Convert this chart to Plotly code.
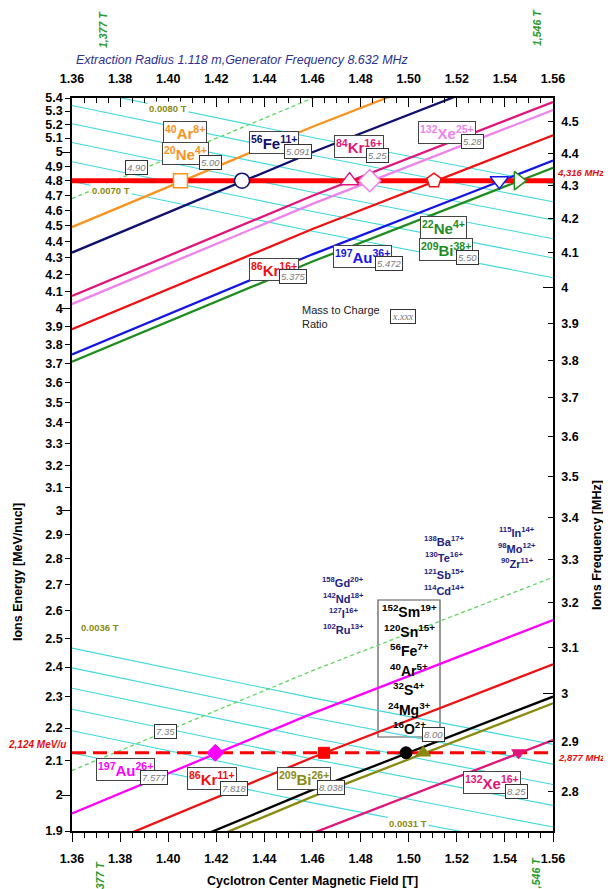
import math
import plotly.graph_objects as go

# ---------------- data ----------------
B_GRID = [1.36, 1.46, 1.56]          # magnetic field [T] sample points of each line

# constant mass-to-charge lines: energy [MeV/u] at B_GRID
E_AQ_490 = [4.6791, 5.3989, 6.1713]   # dashed
E_AQ_500 = [4.4926, 5.1833, 5.9246]   # 40Ar8+ / 20Ne4+
E_AQ_5091 = [4.3323, 4.9981, 5.7128]  # 56Fe11+
E_AQ_525 = [4.0721, 4.6977, 5.3690]   # 84Kr16+
E_AQ_528 = [4.0257, 4.6441, 5.3077]   # 132Xe25+
E_AQ_5375 = [3.8838, 4.4802, 5.1202]  # 86Kr16+
E_AQ_5472 = [3.7465, 4.3217, 4.9389]  # 197Au36+
E_AQ_550 = [3.7082, 4.2775, 4.8883]   # 22Ne4+ / 209Bi38+
E_AQ_735 = [2.0710, 2.3879, 2.7277]   # dashed
E_AQ_7577 = [1.9483, 2.2465, 2.5661]  # 197Au26+
E_AQ_7818 = [1.8297, 2.1097, 2.4097]  # 86Kr11+
E_AQ_800 = [1.7472, 2.0145, 2.3009]   # 16O2+ ...
E_AQ_8038 = [1.7307, 1.9954, 2.2791]  # 209Bi26+
E_AQ_825 = [1.6426, 1.8939, 2.1631]   # 132Xe16+

# constant trim field lines (cyan): energy at B_GRID
TRIM_TOP = [
    [4.7945, 4.4661, 4.1798],   # 0.0070 T
    [4.9314, 4.5937, 4.2992],   # 0.0072 T
    [5.0684, 4.7213, 4.4186],   # 0.0074 T
    [5.2054, 4.8489, 4.5381],   # 0.0076 T
    [5.3424, 4.9765, 4.6575],   # 0.0078 T
    [5.4794, 5.1041, 4.7769],   # 0.0080 T
]
TRIM_BOT = [
    [2.1233, 1.9778, 1.8510],   # 0.0031 T
    [2.1918, 2.0416, 1.9108],   # 0.0032 T
    [2.2602, 2.1054, 1.9705],   # 0.0033 T
    [2.3287, 2.1692, 2.0302],   # 0.0034 T
    [2.3972, 2.2330, 2.0899],   # 0.0035 T
    [2.4657, 2.2968, 2.1496],   # 0.0036 T
]

E_HIGH = 4.8          # MeV/u  (4,316 MHz)
E_LOW = 2.124         # MeV/u  (2,877 MHz)
B_LINE = [1.36, 1.56]
B_HIGH_MARKS = [1.4051, 1.4307, 1.4754, 1.4838, 1.5105, 1.5377, 1.5456]
B_LOW_MARKS = [1.4196, 1.4648, 1.4989, 1.5060, 1.5457]

LEFT_TICKS = ["1.9", "2", "2.1", "2.2", "2.3", "2.4", "2.5", "2.6", "2.7", "2.8", "2.9",
              "3", "3.1", "3.2", "3.3", "3.4", "3.5", "3.6", "3.7", "3.8", "3.9",
              "4", "4.1", "4.2", "4.3", "4.4", "4.5", "4.6", "4.7", "4.8", "4.9",
              "5", "5.1", "5.2", "5.3", "5.4"]
LEFT_LONG = [2, 3, 4, 5]
RIGHT_TICKS = ["2.8", "2.9", "3", "3.1", "3.2", "3.3", "3.4", "3.5", "3.6", "3.7",
               "3.8", "3.9", "4", "4.1", "4.2", "4.3", "4.4", "4.5"]
RIGHT_LONG = [3, 4]
E_RANGE = [1.9, 5.4]
F_RANGE = [2.7221, 4.5756]    # ion frequency [MHz] matching E_RANGE
B_RANGE = [1.36, 1.56]

# ---------------- layout helpers ----------------
# the page body adds an 8 px offset; the figure is sized/margined to compensate
OFF = 8
W, H = 611, 889
PL, PR, PT, PB = 72, 553, 98, 831     # plot area in window pixels


def px(x):
    return (x - PL) / (PR - PL)


def py(y):
    return (PB - y) / (PB - PT)


FONT = "Liberation Sans"
ORANGE = "#F7931E"
NAVY = "#10106E"
KRPINK = "#E0157A"
VIOLET = "#EE82EE"
RED = "#EE1111"
BLUE = "#1515E6"
GREEN = "#1E8C1E"
LGREEN = "#5CD65C"
CYAN = "#3ED8DE"
MAGENTA = "#FF00FF"
OLIVE = "#8A8A10"
LABNAVY = "#22227F"

fig = go.Figure()


def line(xs, ys, color, width, dash=None):
    fig.add_trace(go.Scatter(x=xs, y=ys, mode="lines", hoverinfo="skip", showlegend=False,
                             line=dict(color=color, width=width, dash=dash)))


for e in TRIM_TOP + TRIM_BOT:
    line(B_GRID, e, CYAN, 1.1)

line(B_GRID, E_AQ_490, LGREEN, 1.3, "4px,3px")
line(B_GRID, E_AQ_735, LGREEN, 1.3, "4px,3px")

top_lines = [(E_AQ_500, ORANGE), (E_AQ_5091, NAVY), (E_AQ_525, KRPINK), (E_AQ_528, VIOLET),
             (E_AQ_5375, RED), (E_AQ_5472, BLUE), (E_AQ_550, GREEN)]
bot_lines = [(E_AQ_7577, MAGENTA), (E_AQ_7818, RED), (E_AQ_800, "black"),
             (E_AQ_8038, OLIVE), (E_AQ_825, KRPINK)]
for e, c in top_lines + bot_lines:
    line(B_GRID, e, c, 2.3)

line(B_LINE, [E_HIGH, E_HIGH], "#FF0000", 5)
line(B_LINE, [E_LOW, E_LOW], "#FF0000", 3, "14px,7px")

top_sym = ["square", "circle", "triangle-up", "diamond", "pentagon", "triangle-down", "triangle-right"]
top_col = [ORANGE, NAVY, KRPINK, VIOLET, RED, BLUE, GREEN]
top_size = [14, 15, 16, 17, 15, 16, 16]
for b, s, c, z in zip(B_HIGH_MARKS, top_sym, top_col, top_size):
    fig.add_trace(go.Scatter(x=[b], y=[E_HIGH], mode="markers", hoverinfo="skip", showlegend=False,
                             marker=dict(symbol=s, size=z, color="white", line=dict(color=c, width=1.5))))

bot_sym = ["diamond", "square", "circle", "triangle-up", "triangle-down"]
bot_col = [MAGENTA, "#FF0000", "black", OLIVE, KRPINK]
bot_size = [13, 11, 12, 13, 12]
for b, s, c, z in zip(B_LOW_MARKS, bot_sym, bot_col, bot_size):
    fig.add_trace(go.Scatter(x=[b], y=[E_LOW], mode="markers", hoverinfo="skip", showlegend=False,
                             marker=dict(symbol=s, size=z, color=c, line=dict(color=c, width=1))))

# dummy traces so the overlay axes are drawn
fig.add_trace(go.Scatter(x=[1.46], y=[3.5], xaxis="x2", yaxis="y2", mode="markers",
                         marker=dict(opacity=0), hoverinfo="skip", showlegend=False))
fig.add_trace(go.Scatter(x=[1.46], y=[3.5], xaxis="x", yaxis="y3", mode="markers",
                         marker=dict(opacity=0), hoverinfo="skip", showlegend=False))
fig.add_trace(go.Scatter(x=[1.46], y=[3.5], xaxis="x", yaxis="y4", mode="markers",
                         marker=dict(opacity=0), hoverinfo="skip", showlegend=False))

# ---------------- annotations ----------------
ann = []


def text(x, y, t, size, color, box=False, xanchor="center", angle=0, family=FONT, bg=None,
         bc="#444", bw=1, pad=1, align="center"):
    d = dict(x=px(x), y=py(y), xref="paper", yref="paper", text=t, showarrow=False,
             xanchor=xanchor, yanchor="middle", textangle=angle, align=align,
             font=dict(family=family, size=size, color=color))
    if box:
        d.update(bordercolor=bc, borderwidth=bw, borderpad=pad, bgcolor="white")
    elif bg:
        d.update(bgcolor=bg)
    ann.append(d)


def ion(A, el, q):
    return f"<b><sup>{A}</sup>{el}<sup>{q}</sup></b>"


def ratio(x, y, t):
    text(x, y, f"<i>{t}</i>", 9.5, "#7A7A7A", box=True, bc="#333", pad=1)


# upper ion labels
text(185, 132.5, ion(40, "Ar", "8+"), 15, ORANGE, box=True)
text(185.5, 153.5, ion(20, "Ne", "4+"), 15, ORANGE, box=True)
ratio(210.5, 162.5, "5.00")
text(273.5, 142.5, ion(56, "Fe", "11+"), 15, NAVY, box=True)
ratio(297.5, 151.5, "5.091")
ratio(136.5, 167, "4.90")
text(274, 269.5, ion(86, "Kr", "16+"), 15, RED, box=True)
ratio(292.5, 276, "5.375")
text(358.5, 146, ion(84, "Kr", "16+"), 15, KRPINK, box=True)
ratio(377.5, 155, "5.25")
text(446.5, 132.5, ion(132, "Xe", "25+"), 15, VIOLET, box=True)
ratio(472.5, 142, "5.28")
text(443.5, 227.5, ion(22, "Ne", "4+"), 15, GREEN, box=True)
text(446, 249, ion(209, "Bi", "38+"), 15, GREEN, box=True)
ratio(467.5, 258, "5.50")
text(362.5, 256, ion(197, "Au", "36+"), 15, BLUE, box=True)
ratio(388.5, 264, "5.472")

# lower ion labels
text(125.5, 769, ion(197, "Au", "26+"), 15, MAGENTA, box=True)
ratio(154, 777, "7.577")
ratio(165, 731, "7.35")
text(211.5, 778, ion(86, "Kr", "11+"), 15, RED, box=True)
ratio(234, 788.5, "7.818")
text(304, 778.5, ion(209, "Bi", "26+"), 15, OLIVE, box=True)
ratio(330.5, 787.5, "8.038")
text(492, 782.5, ion(132, "Xe", "16+"), 15, KRPINK, box=True)
ratio(516.5, 791, "8.25")

# big box with A/Q = 8 ions
big = [(152, "Sm", "19+"), (120, "Sn", "15+"), (56, "Fe", "7+"), (40, "Ar", "5+"),
       (32, "S", "4+"), (24, "Mg", "3+"), (16, "O", "2+")]
for i, (A, el, q) in enumerate(big):
    text(409, 611 + i * 19.5, ion(A, el, q), 14, "black")
ratio(433.5, 734, "8.00")

# navy ion lists
for i, (A, el, q) in enumerate([(158, "Gd", "20+"), (142, "Nd", "18+"), (127, "I", "16+"), (102, "Ru", "13+")]):
    text(343, 582 + i * 15.7, ion(A, el, q), 11, LABNAVY)
for i, (A, el, q) in enumerate([(138, "Ba", "17+"), (130, "Te", "16+"), (121, "Sb", "15+"), (114, "Cd", "14+")]):
    text(444, 541 + i * 16.3, ion(A, el, q), 11, LABNAVY)
for i, (A, el, q) in enumerate([(115, "In", "14+"), (98, "Mo", "12+"), (90, "Zr", "11+")]):
    text(517, 532 + i * 15.5, ion(A, el, q), 11, LABNAVY)

# trim field labels
text(167.5, 109, "<b>0.0080 T</b>", 9.5, OLIVE, bg="white")
text(110.5, 191, "<b>0.0070 T</b>", 9.5, OLIVE, bg="white")
text(100, 627, "<b>0.0036 T</b>", 9.5, OLIVE, bg="white")
text(408, 823, "<b>0.0031 T</b>", 9.5, OLIVE, bg="white")

# legend of ratio box
text(300, 317, "Mass to Charge<br>Ratio", 11, "#222", xanchor="left", align="left")
text(402.5, 316, "<i>x.xxx</i>", 10, "#777", box=True, family="Liberation Serif", bc="#333")

# red line labels
text(580, 172, "<b><i>4,316 MHz</i></b>", 9.5, "#E01010")
text(581, 757, "<b><i>2,877 MHz</i></b>", 9.5, "#E01010")
text(36.5, 744, "<b><i>2,124 MeV/u</i></b>", 10, "#E01010")

# title and field labels
text(242.5, 60, "<i>Extraction Radius 1.118 m,Generator Frequency 8.632 MHz</i>", 12.5, "#2E3192")
text(103, 30, "<b><i>1,377 T</i></b>", 10.5, "#2A9A2A", angle=-90)
text(537, 28, "<b><i>1,546 T</i></b>", 10.5, "#2A9A2A", angle=-90)
text(100, 880, "<b><i>1,377 T</i></b>", 10.5, "#2A9A2A", angle=-90)
text(536, 876, "<b><i>1,546 T</i></b>", 10.5, "#2A9A2A", angle=-90)

# axis titles
text(312.5, 881, "<b>Cyclotron Center Magnetic Field [T]</b>", 12.5, "black")
text(18, 572, "<b>Ions Energy [MeV/nucl]</b>", 12.5, "black", angle=-90)
text(597, 545, "<b>Ions Frequency [MHz]</b>", 12.5, "black", angle=-90)

shapes = [dict(type="rect", xref="paper", yref="paper", x0=px(378), x1=px(440), y0=py(737), y1=py(600),
               line=dict(color="#555", width=1.2), fillcolor="white", layer="below")]

tickfont_x = dict(family=FONT, size=12.5, color="black", weight="bold")
tickfont_y = dict(family=FONT, size=12.5, color="black", weight="bold")
xcommon = dict(range=B_RANGE, tickmode="linear", tick0=1.36, dtick=0.02, tickformat=".2f",
               ticklen=9, tickwidth=1, tickcolor="black", showline=True, linewidth=1.5,
               linecolor="black", showgrid=False, zeroline=False, tickfont=tickfont_x)

fig.update_layout(
    width=W - OFF, height=H - OFF,
    margin=dict(l=PL - OFF, r=W - PR, t=PT - OFF, b=H - PB),
    paper_bgcolor="white", plot_bgcolor="white", showlegend=False,
    xaxis=dict(**xcommon, ticks="outside", ticklabelstandoff=6, anchor="y",
               minor=dict(ticks="outside", ticklen=5, dtick=0.005, tick0=1.36, tickcolor="black", showgrid=False)),
    xaxis2=dict(**xcommon, ticks="inside", side="top", overlaying="x", anchor="y", ticklabelstandoff=8,
                minor=dict(ticks="inside", ticklen=5, dtick=0.005, tick0=1.36, tickcolor="black", showgrid=False)),
    yaxis=dict(type="log", range=[math.log10(E_RANGE[0]), math.log10(E_RANGE[1])], tickmode="array",
               tickvals=[float(s) for s in LEFT_TICKS], ticktext=LEFT_TICKS, ticks="outside", ticklen=5,
               tickcolor="black", showline=True, linewidth=1.5, linecolor="black", showgrid=False,
               zeroline=False, tickfont=tickfont_y, anchor="x"),
    yaxis2=dict(type="log", range=[math.log10(F_RANGE[0]), math.log10(F_RANGE[1])], tickmode="array",
                tickvals=[float(s) for s in RIGHT_TICKS], ticktext=RIGHT_TICKS, ticks="inside", ticklen=5,
                tickcolor="black", showline=True, linewidth=1.5, linecolor="black", showgrid=False,
                zeroline=False, tickfont=tickfont_y, side="right", overlaying="y", anchor="x",
                ticklabelstandoff=4),
    yaxis3=dict(type="log", range=[math.log10(E_RANGE[0]), math.log10(E_RANGE[1])], tickmode="array",
                tickvals=LEFT_LONG, ticks="outside", ticklen=10, tickcolor="black", showticklabels=False,
                showline=False, showgrid=False, zeroline=False, overlaying="y", side="left", anchor="x"),
    yaxis4=dict(type="log", range=[math.log10(F_RANGE[0]), math.log10(F_RANGE[1])], tickmode="array",
                tickvals=RIGHT_LONG, ticks="inside", ticklen=10, tickcolor="black", showticklabels=False,
                showline=False, showgrid=False, zeroline=False, overlaying="y", side="right", anchor="x"),
    annotations=ann, shapes=shapes,
)

fig.write_html("out.html")
